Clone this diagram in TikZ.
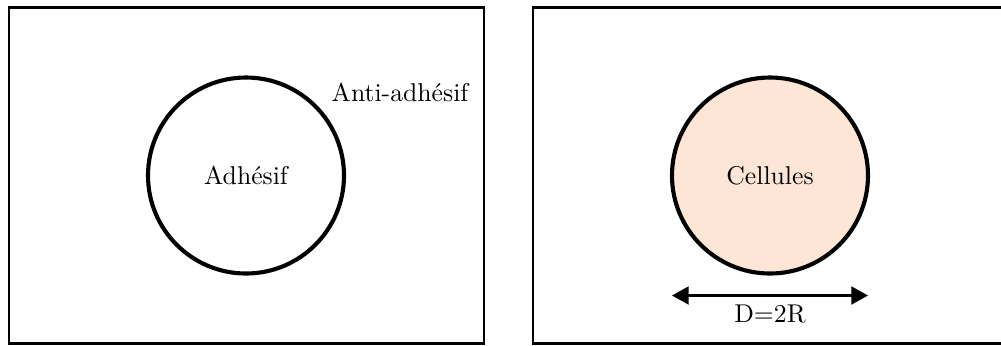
\documentclass[tikz,border=0pt]{standalone}
\usetikzlibrary{arrows.meta}
\definecolor{peach}{RGB}{253,230,214}
\begin{document}
\begin{tikzpicture}[x=0.389pt,y=-0.389pt,
  frame/.style={draw=black,line width=0.8pt},
  disc/.style={circle,draw=black,line width=1.6pt,minimum size=196*0.389pt,inner sep=0pt},
  lbl/.style={inner sep=1pt,font=\normalsize},
  tip/.style={Triangle[length=6.5pt,width=7pt]}]
\useasboundingbox (0,0) rectangle (1001,345);
\clip (0,0) rectangle (1001,345);
\draw[frame] (9,7.5) rectangle (484,343.5);
\draw[frame] (533,7.5) rectangle (1010,343.5);
\node[disc] (adh) at (246,175.5) {Adh\'esif};
\node[lbl] (anti) at (400,92) {Anti-adh\'esif};
\node[disc,fill=peach] (cel) at (770,175.5) {Cellules};
\coordinate (al) at (672,295.5);
\coordinate (ar) at (868,295.5);
\draw[line width=0.8pt,{Triangle[length=6.5pt,width=7pt]}-{Triangle[length=6.5pt,width=7pt]}] (al) -- (ar);
\node[lbl] (dlab) at (770,313.5) {D=2R};
\end{tikzpicture}
\end{document}
